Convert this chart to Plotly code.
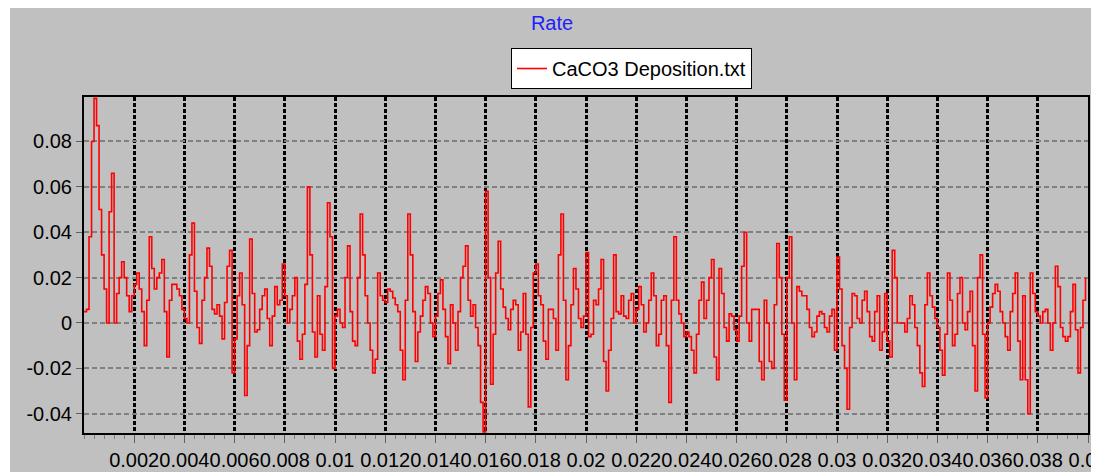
import plotly.graph_objects as go

# sampling step of the deposition file (s)
time_step = 0.0001

# rate readings, one list per 0.01 s of the record
rate_a = [0.005, 0.006, 0.038, 0.08, 0.099, 0.087, 0.05, 0.03, 0.015, 0.0,
          0.049, 0.066, 0.0, 0.013, 0.02, 0.027, 0.02, 0.012, 0.005, 0.012,
          0.017, 0.022, 0.015, 0.005, -0.01, 0.01, 0.038, 0.024, 0.015, 0.02,
          0.022, 0.028, 0.005, -0.015, 0.01, 0.017, 0.017, 0.015, 0.012, 0.006,
          0.002, 0.0, 0.03, 0.044, 0.014, -0.002, -0.009, 0.01, 0.02, 0.033,
          0.025, 0.006, 0.004, 0.008, 0.003, -0.007, 0.009, 0.025, 0.032, -0.022,
          -0.007, 0.012, 0.022, 0.008, -0.032, -0.01, 0.037, 0.013, -0.004, -0.003,
          0.006, 0.012, 0.015, 0.002, -0.01, 0.003, 0.016, 0.008, 0.01, 0.026,
          0.012, 0.0, 0.006, 0.012, 0.02, -0.008, -0.016, -0.005, 0.017, 0.06,
          0.03, -0.004, -0.015, 0.012, -0.005, -0.012, 0.016, 0.053, 0.038, -0.02]

rate_b = [0.003, 0.006, 0.0, -0.002, 0.02, 0.034, 0.005, -0.008, -0.01, 0.02,
          0.048, 0.03, 0.012, 0.0, -0.012, -0.022, -0.016, 0.022, 0.012, 0.01,
          0.009, 0.015, 0.014, 0.011, 0.008, 0.005, -0.012, -0.025, 0.01, 0.048,
          0.03, 0.005, -0.017, -0.004, 0.003, 0.01, 0.016, 0.013, 0.0, -0.006,
          0.003, 0.013, 0.019, 0.006, -0.006, -0.018, 0.008, 0.0, -0.012, 0.005,
          0.02, 0.025, 0.034, 0.01, 0.003, 0.008, -0.002, -0.01, -0.035, -0.048,
          0.058, 0.02, -0.027, -0.005, 0.022, 0.036, 0.015, 0.007, 0.002, -0.003,
          0.006, 0.01, 0.008, -0.012, -0.004, 0.013, -0.005, -0.037, -0.002, 0.022,
          0.026, 0.012, 0.008, -0.008, -0.016, 0.006, 0.006, 0.002, -0.012, 0.03,
          0.048, 0.01, -0.025, -0.01, 0.008, 0.024, 0.015, 0.002, -0.002, 0.003]

rate_c = [0.031, -0.006, -0.005, 0.01, 0.008, 0.015, 0.028, -0.017, -0.03, -0.012,
          0.002, 0.03, 0.005, 0.004, 0.012, 0.003, 0.002, 0.01, 0.013, 0.0,
          0.006, 0.016, 0.008, -0.004, 0.0, 0.01, 0.022, 0.012, -0.01, -0.005,
          0.01, 0.012, -0.01, -0.035, 0.01, 0.038, 0.01, 0.004, 0.0, -0.006,
          -0.004, -0.006, -0.012, -0.022, -0.005, 0.01, 0.018, 0.002, 0.01, 0.02,
          0.028, -0.015, -0.025, 0.024, 0.013, -0.002, -0.008, 0.004, 0.003, -0.003,
          -0.008, 0.003, 0.025, 0.04, 0.0, -0.008, 0.006, 0.006, 0.006, -0.017,
          -0.025, 0.01, 0.0, -0.017, -0.02, 0.008, 0.035, 0.02, -0.005, -0.034,
          0.02, 0.038, 0.0, -0.025, 0.016, 0.014, 0.012, 0.012, 0.006, -0.002,
          -0.006, -0.004, 0.003, 0.005, 0.004, -0.002, -0.004, 0.003, 0.006, -0.012]

rate_d = [0.029, 0.015, -0.01, -0.02, -0.038, -0.002, 0.013, 0.012, 0.002, 0.0,
          0.01, 0.014, 0.005, -0.006, -0.008, 0.005, 0.012, -0.012, -0.004, 0.013,
          -0.008, -0.015, 0.032, 0.02, 0.0, 0.0, 0.0, -0.004, 0.002, 0.012,
          0.008, -0.002, -0.01, -0.022, -0.028, 0.008, 0.022, 0.012, 0.007, 0.002,
          -0.002, -0.012, -0.023, -0.005, 0.022, 0.01, -0.01, -0.005, 0.013, 0.02,
          0.0, -0.003, 0.005, 0.014, -0.01, -0.03, 0.02, 0.03, -0.005, -0.033,
          0.0, 0.007, 0.013, 0.017, 0.014, 0.005, 0.0, -0.006, -0.012, 0.005,
          0.013, 0.022, -0.008, -0.025, 0.012, -0.025, -0.04, 0.022, 0.013, 0.005,
          0.003, 0.0, 0.005, 0.006, 0.0, -0.012, 0.0, 0.025, 0.016, -0.002,
          -0.006, -0.008, -0.006, 0.005, 0.017, -0.003, -0.022, -0.002, 0.01, 0.02]

x_ticks = [0.002, 0.004, 0.006, 0.008, 0.01, 0.012, 0.014, 0.016, 0.018, 0.02,
           0.022, 0.024, 0.026, 0.028, 0.03, 0.032, 0.034, 0.036, 0.038, 0.04]
x_labels = ["0.002", "0.004", "0.006", "0.008", "0.01", "0.012", "0.014", "0.016",
            "0.018", "0.02", "0.022", "0.024", "0.026", "0.028", "0.03", "0.032",
            "0.034", "0.036", "0.038", "0.04"]
y_ticks = [-0.04, -0.02, 0, 0.02, 0.04, 0.06, 0.08]
y_labels = ["-0.04", "-0.02", "0", "0.02", "0.04", "0.06", "0.08"]

rate = rate_a + rate_b + rate_c + rate_d
t = [i * time_step for i in range(len(rate))]

FONT = "Liberation Sans, Arial, sans-serif"
GREY = "#c0c0c0"

# the page puts the figure 8px in from the top-left, so size it to fill the rest
W, H = 1091, 464

fig = go.Figure()
fig.add_trace(go.Scatter(
    x=t, y=rate,
    mode="lines",
    line=dict(color="#ff0000", width=1.6, shape="hv"),
    name="CaCO3 Deposition.txt",
))

fig.update_layout(
    width=W, height=H,
    margin=dict(l=76, r=11, t=89, b=39, autoexpand=False),
    paper_bgcolor=GREY,
    plot_bgcolor=GREY,
    font=dict(family=FONT, size=20, color="#000000"),
    title=dict(text="Rate", x=544 / W, xref="container", xanchor="center",
               y=1 - 15 / H, yref="container", yanchor="middle",
               font=dict(family=FONT, size=20, color="#2020ff")),
    showlegend=True,
    legend=dict(x=0.4253, y=1.1458, xanchor="left", yanchor="top",
                bgcolor="#ffffff", bordercolor="#000000", borderwidth=1,
                font=dict(family=FONT, size=20)),
    xaxis=dict(
        range=[0, 0.04],
        tickvals=x_ticks, ticktext=x_labels, tickangle=0,
        ticklabeloverflow="allow",
        ticks="outside", ticklen=8, tickcolor="#606060", tickwidth=1,
        minor=dict(dtick=0.0004, ticks="outside", ticklen=4, tickcolor="#808080",
                   showgrid=False),
        showgrid=True, gridcolor="#000000", gridwidth=2.5, griddash="4px,2px",
        showline=True, linecolor="#000000", linewidth=2, mirror=True,
        zeroline=False,
    ),
    yaxis=dict(
        range=[-0.0485, 0.0996],
        tickvals=y_ticks, ticktext=y_labels,
        ticks="outside", ticklen=6, tickcolor="#606060", tickwidth=1,
        showgrid=True, gridcolor="#808080", gridwidth=1.5, griddash="5px,3px",
        showline=True, linecolor="#000000", linewidth=2, mirror=True,
        zeroline=False,
    ),
)

# thin white strip left of the grey chart panel
fig.add_shape(type="rect", xref="paper", yref="paper",
              x0=-0.2, x1=-74 / 1004, y0=-0.3, y1=1.4,
              fillcolor="#ffffff", line_width=0, layer="below")

fig.write_html("out.html")
